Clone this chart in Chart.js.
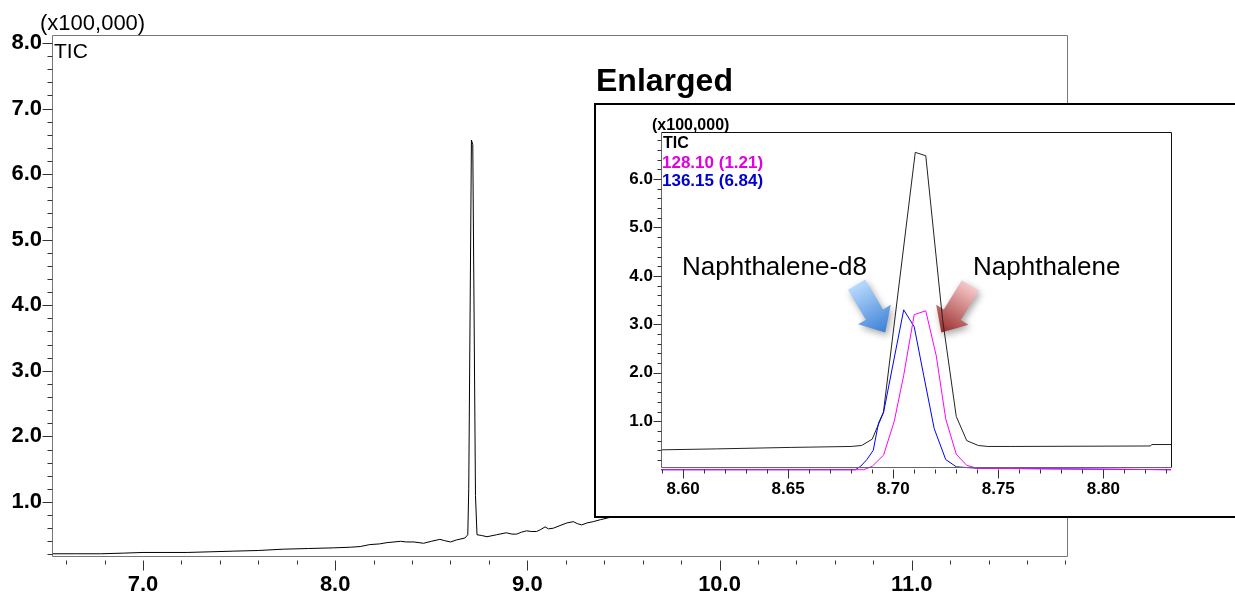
<!DOCTYPE html>
<html lang="en">
<head>
<meta charset="UTF-8">
<title>TIC - Naphthalene</title>
<script src="https://cdn.jsdelivr.net/npm/chart.js"></script>
<style>
    body {
        margin: 0;
        width: 1235px;
        height: 594px;
        overflow: hidden;
        position: relative;
        background: #fff;
        font-family: 'Liberation Sans', Arial, sans-serif;
        color: #000;
    }
    #mainChart { position: absolute; left: 0; top: 0; }
    .inset {
        position: absolute;
        left: 594px;
        top: 103px;
        width: 645px;
        height: 411px;
        border: 2px solid #000;
        background: #fff;
    }
    #zoomChart { position: absolute; left: 0; top: 0; }
    .txt { position: absolute; white-space: nowrap; line-height: 1; }
</style>
</head>
<body>
<canvas id="mainChart" width="1235" height="594"></canvas>
<div class="txt" style="left:40px;top:12px;font-size:22px;">(x100,000)</div>
<div class="txt" style="left:54px;top:40px;font-size:21px;">TIC</div>
<div class="txt" style="left:596px;top:64px;font-size:32px;font-weight:bold;">Enlarged</div>

<div class="inset">
    <canvas id="zoomChart" width="639" height="411"></canvas>
</div>
<div class="txt" style="left:652px;top:117px;font-size:16px;font-weight:bold;">(x100,000)</div>
<div class="txt" style="left:663px;top:135px;font-size:16px;font-weight:bold;">TIC</div>
<div class="txt" style="left:662px;top:154px;font-size:17px;font-weight:bold;color:#e000e0;">128.10 (1.21)</div>
<div class="txt" style="left:662px;top:172px;font-size:17px;font-weight:bold;color:#0000d0;">136.15 (6.84)</div>
<div class="txt" style="left:682px;top:253px;font-size:26px;">Naphthalene-d8</div>
<div class="txt" style="left:973px;top:253px;font-size:26px;">Naphthalene</div>

<script>
    // full run, TIC (x100,000)
    const mainTime = [6.526, 6.65, 6.78, 6.90, 7.00, 7.12, 7.23, 7.35, 7.47, 7.60, 7.73, 7.86, 7.99,
        8.08, 8.13, 8.18, 8.23, 8.27, 8.34, 8.37, 8.41, 8.46, 8.50, 8.545, 8.57, 8.60, 8.63, 8.675,
        8.690, 8.695, 8.709, 8.716, 8.730, 8.738, 8.76, 8.79, 8.84, 8.89, 8.92, 8.944, 8.97, 8.996,
        9.02, 9.048, 9.07, 9.092, 9.11, 9.135, 9.17, 9.205, 9.239, 9.26, 9.283, 9.31, 9.343, 9.38,
        9.41, 9.45];
    const mainTic = [0.21, 0.21, 0.21, 0.22, 0.23, 0.23, 0.23, 0.24, 0.25, 0.26, 0.28, 0.29, 0.30,
        0.31, 0.32, 0.35, 0.36, 0.38, 0.40, 0.39, 0.39, 0.37, 0.40, 0.43, 0.41, 0.39, 0.42, 0.45,
        0.50, 1.20, 6.52, 6.45, 1.10, 0.50, 0.49, 0.47, 0.50, 0.53, 0.51, 0.51, 0.54, 0.56,
        0.55, 0.55, 0.58, 0.62, 0.59, 0.60, 0.64, 0.68, 0.70, 0.67, 0.65, 0.68, 0.70, 0.73,
        0.75, 0.78];

    // enlarged window
    const zoomTimeTic = [8.5895, 8.616, 8.651, 8.680, 8.685, 8.690, 8.6953, 8.7105, 8.7155, 8.7235,
        8.7300, 8.7350, 8.7405, 8.745, 8.756, 8.8225, 8.823, 8.8322];
    const zoomTic = [0.41, 0.43, 0.46, 0.48, 0.50, 0.63, 1.17, 6.55, 6.48, 3.10,
        1.10, 0.60, 0.50, 0.48, 0.48, 0.49, 0.52, 0.52];

    const zoomTime128 = [8.5895, 8.686, 8.690, 8.6954, 8.7005, 8.7050, 8.7100, 8.7155, 8.7205,
        8.7250, 8.7300, 8.7350, 8.740, 8.8322];
    const zoomIon128 = [0.0, 0.0, 0.07, 0.30, 1.00, 1.95, 3.20, 3.28, 2.35,
        1.05, 0.32, 0.09, 0.03, 0.0];

    const zoomTime136 = [8.5895, 8.682, 8.6845, 8.6875, 8.6905, 8.6930, 8.6955, 8.7050, 8.7100,
        8.7145, 8.7195, 8.7250, 8.7300, 8.740, 8.8322];
    const zoomIon136 = [0.0, 0.0, 0.07, 0.21, 0.40, 0.96, 1.20, 3.30, 2.95,
        1.95, 0.85, 0.21, 0.06, 0.03, 0.0];

    const mainXLabels = [7.0, 8.0, 9.0, 10.0, 11.0];
    const mainYLabels = [1.0, 2.0, 3.0, 4.0, 5.0, 6.0, 7.0, 8.0];
    const zoomXLabels = [8.60, 8.65, 8.70, 8.75, 8.80];
    const zoomYLabels = [1.0, 2.0, 3.0, 4.0, 5.0, 6.0];

    // arrows [tail, tip] in enlarged-window units
    const arrowD8 = [[8.6826, 3.82], [8.6962, 2.83]];
    const arrowNap = [[8.7367, 3.80], [8.7229, 2.83]];

    function steps(from, to, step) {
        const out = [];
        const n = Math.round((to - from) / step);
        for (let i = 0; i <= n; i++) out.push(+(from + i * step).toFixed(4));
        return out;
    }

    function pts(xs, ys) {
        return xs.map((x, i) => ({ x: x, y: ys[i] }));
    }

    // frame + tick marks (short/long like the instrument software)
    function decor(opt) {
        return {
            id: 'decor',
            afterDraw(chart) {
                const ctx = chart.ctx;
                const a = chart.chartArea;
                const xs = chart.scales.x, ys = chart.scales.y;
                const L = Math.round(a.left) + 0.5, R = Math.round(a.right) + 0.5;
                const T = Math.round(a.top) + 0.5, B = Math.round(a.bottom) + 0.5;
                ctx.save();
                ctx.lineWidth = 1;
                ctx.strokeStyle = opt.frameTop;
                ctx.beginPath();
                ctx.moveTo(L, T); ctx.lineTo(R, T); ctx.lineTo(R, B);
                ctx.stroke();
                ctx.strokeStyle = opt.axis;
                ctx.beginPath();
                ctx.moveTo(L, T); ctx.lineTo(L, B); ctx.lineTo(R, B);
                ctx.stroke();

                ctx.strokeStyle = '#333';
                ctx.beginPath();
                opt.xMinor.forEach(v => {
                    const px = Math.round(xs.getPixelForValue(v)) + 0.5;
                    const major = opt.xMajor.some(m => Math.abs(m - v) < 1e-6);
                    ctx.moveTo(px, B + opt.xGap);
                    ctx.lineTo(px, B + opt.xGap + (major ? opt.xLong : opt.xShort));
                });
                opt.yMinor.forEach(v => {
                    const py = Math.round(ys.getPixelForValue(v)) + 0.5;
                    const major = opt.yMajor.some(m => Math.abs(m - v) < 1e-6);
                    ctx.moveTo(L, py);
                    ctx.lineTo(L - (major ? opt.yLong : opt.yShort), py);
                });
                ctx.stroke();
                ctx.restore();
            }
        };
    }

    function arrows(list) {
        return {
            id: 'arrows',
            beforeDatasetsDraw(chart) {
                const ctx = chart.ctx;
                const xs = chart.scales.x, ys = chart.scales.y;
                list.forEach(ar => {
                    const x0 = xs.getPixelForValue(ar.pos[0][0]), y0 = ys.getPixelForValue(ar.pos[0][1]);
                    const x1 = xs.getPixelForValue(ar.pos[1][0]), y1 = ys.getPixelForValue(ar.pos[1][1]);
                    const len = Math.hypot(x1 - x0, y1 - y0);
                    const ux = (x1 - x0) / len, uy = (y1 - y0) / len;
                    const px = -uy, py = ux;
                    const w = 10, hw = 19, hl = 21;
                    const bx = x1 - ux * hl, by = y1 - uy * hl;
                    const g = ctx.createLinearGradient(x0, y0, x1, y1);
                    g.addColorStop(0, ar.c0);
                    g.addColorStop(1, ar.c1);
                    ctx.save();
                    ctx.shadowColor = 'rgba(0,0,0,0.35)';
                    ctx.shadowBlur = 7;
                    ctx.shadowOffsetX = 2;
                    ctx.shadowOffsetY = 3;
                    ctx.fillStyle = g;
                    ctx.beginPath();
                    ctx.moveTo(x0 + px * w, y0 + py * w);
                    ctx.lineTo(bx + px * w, by + py * w);
                    ctx.lineTo(bx + px * hw, by + py * hw);
                    ctx.lineTo(x1, y1);
                    ctx.lineTo(bx - px * hw, by - py * hw);
                    ctx.lineTo(bx - px * w, by - py * w);
                    ctx.lineTo(x0 - px * w, y0 - py * w);
                    ctx.closePath();
                    ctx.fill();
                    ctx.restore();
                });
            }
        };
    }

    const tickFont = (size) => ({ family: "'Liberation Sans', Arial, sans-serif", size: size, weight: 'bold' });

    // main chromatogram
    new Chart(document.getElementById('mainChart'), {
        type: 'line',
        data: {
            datasets: [{
                data: pts(mainTime, mainTic),
                borderColor: '#000',
                borderWidth: 1,
                pointRadius: 0,
                tension: 0
            }]
        },
        options: {
            responsive: false,
            animation: false,
            events: [],
            layout: { padding: { top: 35, right: 168, left: 0, bottom: 0 } },
            plugins: { legend: { display: false }, tooltip: { enabled: false } },
            scales: {
                x: {
                    type: 'linear',
                    min: 6.5265,
                    max: 11.808,
                    afterBuildTicks: s => { s.ticks = mainXLabels.map(v => ({ value: v })); },
                    afterFit: s => { s.height = 38; },
                    grid: { display: false, drawTicks: false },
                    border: { display: false },
                    ticks: { color: '#000', font: tickFont(22), padding: 16, maxRotation: 0,
                        callback: v => v.toFixed(1) }
                },
                y: {
                    min: 0.176,
                    max: 8.122,
                    afterBuildTicks: s => { s.ticks = mainYLabels.map(v => ({ value: v })); },
                    afterFit: s => { s.width = 52; },
                    grid: { display: false, drawTicks: false },
                    border: { display: false },
                    ticks: { color: '#000', font: tickFont(22), padding: 10,
                        callback: v => v.toFixed(1) }
                }
            }
        },
        plugins: [decor({
            frameTop: '#777', axis: '#777',
            xMinor: steps(6.6, 11.8, 0.2), xMajor: mainXLabels, xGap: 4, xLong: 10, xShort: 4,
            yMinor: steps(0.2, 8.0, 0.2), yMajor: mainYLabels, yLong: 10, yShort: 5
        })]
    });

    // enlarged window
    new Chart(document.getElementById('zoomChart'), {
        type: 'line',
        data: {
            datasets: [{
                label: '128.10',
                data: pts(zoomTime128, zoomIon128),
                borderColor: '#ff00ff',
                borderWidth: 1,
                pointRadius: 0,
                tension: 0,
                clip: false
            }, {
                label: '136.15',
                data: pts(zoomTime136, zoomIon136),
                borderColor: '#0000ff',
                borderWidth: 1,
                pointRadius: 0,
                tension: 0,
                clip: false
            }, {
                label: 'TIC',
                data: pts(zoomTimeTic, zoomTic),
                borderColor: '#222',
                borderWidth: 1,
                pointRadius: 0,
                tension: 0,
                clip: false
            }]
        },
        options: {
            responsive: false,
            animation: false,
            events: [],
            layout: { padding: { top: 27, right: 64, left: 0, bottom: 0 } },
            plugins: { legend: { display: false }, tooltip: { enabled: false } },
            scales: {
                x: {
                    type: 'linear',
                    min: 8.5895,
                    max: 8.8322,
                    afterBuildTicks: s => { s.ticks = zoomXLabels.map(v => ({ value: v })); },
                    afterFit: s => { s.height = 49; },
                    grid: { display: false, drawTicks: false },
                    border: { display: false },
                    ticks: { color: '#000', font: tickFont(17), padding: 12, maxRotation: 0,
                        callback: v => v.toFixed(2) }
                },
                y: {
                    min: 0.056,
                    max: 6.97,
                    afterBuildTicks: s => { s.ticks = zoomYLabels.map(v => ({ value: v })); },
                    afterFit: s => { s.width = 65; },
                    grid: { display: false, drawTicks: false },
                    border: { display: false },
                    ticks: { color: '#000', font: tickFont(17), padding: 8,
                        callback: v => v.toFixed(1) }
                }
            }
        },
        plugins: [arrows([
            { pos: arrowD8, c0: '#b8dafd', c1: '#3a7fd5' },
            { pos: arrowNap, c0: '#f6c8c8', c1: '#9a2a2a' }
        ]), decor({
            frameTop: '#111', axis: '#666',
            xMinor: steps(8.59, 8.83, 0.01), xMajor: zoomXLabels, xGap: 2, xLong: 9, xShort: 4,
            yMinor: steps(0.2, 6.8, 0.2), yMajor: zoomYLabels, yLong: 8, yShort: 4
        })]
    });
</script>
</body>
</html>
